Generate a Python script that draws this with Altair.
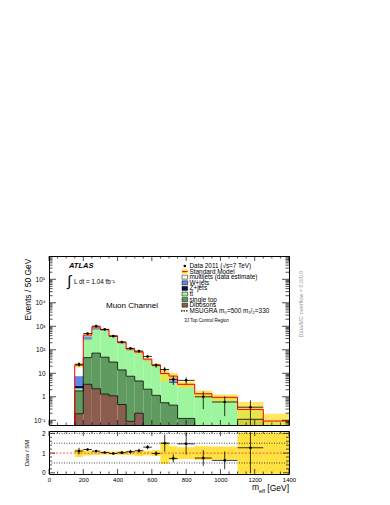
import altair as alt
import pandas as pd

# ---------------- data ----------------
edges = [150, 200, 250, 300, 350, 400, 450, 500, 550, 600, 650, 700, 750, 850, 950, 1100, 1250, 1400]
dibosons   = [0.19, 3.4, 2.2, 1.3, 1.1, 0.47, 0.09, 0.2, 0, 0, 0, 0, 0, 0, 0, 0, 0]
single_top = [1.6, 43, 70, 47, 29, 13.5, 7.4, 4.5, 2.1, 1.15, 0.56, 0.44, 0.12, 0.03, 0.02, 0.11, 0]
ttbar      = [0.5, 234, 668, 582, 320, 171, 88.5, 65.3, 33.9, 18.85, 8.24, 3.56, 2.98, 1.17, 0.83, 0.15, 0.09]
zjets      = [0.6, 15, 20, 10, 5, 3, 1.5, 1, 0.5, 0.3, 0.2, 0.3, 0.05, 0.02, 0.01, 0, 0]
wjets      = [4.7, 85, 110, 60, 28, 16, 8, 7, 3, 2, 0.7, 3.0, 0.2, 0.11, 0.08, 0.03, 0.003]
multijets  = [14.4, 40, 50, 20, 7, 5, 2.5, 2, 0.5, 0.3, 0.1, 0.3, 0.05, 0.02, 0.01, 0, 0]
mc_unc     = [0.2, 0.12, 0.1, 0.08, 0.08, 0.1, 0.1, 0.15, 0.12, 0.15, 0.55, 0.35, 0.3, 0.35, 0.33, 1.05, 1.05]

data_vals  = [24, 490, 1010, 740, 380, 213, 115, 88, 52, 22, 14.5, 5.5, 5.0, 1.0, 0.6, 0.36]
data_err   = [5, 22, 32, 27, 19, 14.6, 10.7, 9.4, 7.2, 4.7, 3.8, 2.3, 1.6, 0.7, 0.45, 0.35]
ratio_vals = [1.1, 1.18, 1.1, 1.03, 0.98, 1.02, 1.07, 1.12, 1.3, 0.98, 1.5, 0.73, 1.47, 0.75, 0.63, 1.27]
ratio_err  = [0.17, 0.06, 0.04, 0.04, 0.05, 0.07, 0.1, 0.1, 0.1, 0.12, 0.43, 0.2, 0.55, 0.4, 0.45, 1.3]

comp_names  = ["Dibosons", "single top", "ttbar", "Z+jets", "W+jets", "multijets"]
comp_values = [dibosons, single_top, ttbar, zjets, wjets, multijets]
comp_colors = ["#8b5d4f", "#5f9a5f", "#9df59d", "#0b0b5c", "#5c8ae6", "#ffffff"]

legend_labels = ["Data 2011 (\u221as=7 TeV)", "Standard Model", "multijets (data estimate)", "W+jets",
                 "Z+jets", "tt\u0304", "single top", "Dibosons", "MSUGRA m\u2080=500 m\u2081/\u2082=330"]
legend_swatch = [None, "SM", "#ffffff", "#5c8ae6", "#0b0b5c", "#9df59d", "#5f9a5f", "#8b5d4f", "DASH"]

x_major = [0, 200, 400, 600, 800, 1000, 1200, 1400]
decades = [0.1, 1, 10, 100, 1e3, 1e4, 1e5]
decade_labels = ["10\u207b\u00b9", "1", "10", "10\u00b2", "10\u00b3", "10\u2074", "10\u2075"]
ratio_ticks = [0, 1, 2]
ratio_refs = [0.5, 1.5, 2.0]

# ---------------- layout constants ----------------
FONT = "Liberation Sans, Arial, Helvetica, sans-serif"
W, HM, HR = 240, 169, 43
FLOOR = 1e-3
YDOM = [0.063, 9.8e5]
RDOM = [-0.06, 2.12]
BAND = "#ffdf2e"

xs = alt.Scale(domain=[0, 1400], nice=False, zero=False)
ys = alt.Scale(type="log", domain=YDOM, nice=False)
rs = alt.Scale(domain=RDOM, nice=False, zero=False)

label_expr = " : ".join(f"datum.value < {d * 3} ? '{l}'" for d, l in zip(decades, decade_labels)) + " : ''"

AX_MY = alt.Axis(values=decades, labelExpr=label_expr, ticks=False, domain=False, grid=False,
                 labelFontSize=6.5, labelPadding=4, labelOverlap=False, labelFlush=False,
                 title="Events / 50 GeV", titleFontSize=8.5, titleFontWeight="normal",
                 titleX=-16.5, titleY=2, titleAlign="right", titleAngle=270, titleBaseline="bottom")
AX_RX = alt.Axis(values=x_major, format="d", ticks=False, domain=False, grid=False,
                 labelFontSize=6, labelPadding=2, labelOverlap=False, labelFlush=False, title=None)
AX_RY = alt.Axis(values=ratio_ticks, format="d", ticks=False, domain=False, grid=False,
                 labelFontSize=6.5, labelPadding=4, labelOverlap=False, labelFlush=False,
                 title="Data / SM", titleFontSize=6, titleFontWeight="normal", titleX=-19.7,
                 titleY=HR / 2, titleAlign="center", titleAngle=270, titleBaseline="bottom")

nb = len(edges) - 1
lo, hi = edges[:-1], edges[1:]

# stacked components
rows = []
cum = [0.0] * nb
cum_tops = {}
for name, vals in zip(comp_names, comp_values):
    for i in range(nb):
        base = cum[i]
        top = base + vals[i]
        rows.append(dict(comp=name, lo=lo[i], hi=hi[i], y0=max(base, FLOOR), y1=max(top, FLOOR)))
        cum[i] = top
    cum_tops[name] = list(cum)
sm = list(cum)
stack_df = pd.DataFrame(rows)


def step_df(vals):
    xv = [edges[0]] + edges
    yv = [FLOOR] + [max(v, FLOOR) for v in vals] + [max(vals[-1], FLOOR)]
    return pd.DataFrame({"x": xv, "y": yv, "i": list(range(len(xv)))})


band_df = pd.DataFrame({"lo": lo, "hi": hi,
                        "b0": [max(s * (1 - u), FLOOR) for s, u in zip(sm, mc_unc)],
                        "b1": [s * (1 + u) for s, u in zip(sm, mc_unc)],
                        "r0": [1 - u for u in mc_unc], "r1": [1 + u for u in mc_unc]})

nd = len(data_vals)
data_df = pd.DataFrame({"lo": lo[:nd], "hi": hi[:nd],
                        "c": [(a + b) / 2 for a, b in zip(lo[:nd], hi[:nd])],
                        "d": data_vals,
                        "dlo": [max(d - e, FLOOR) for d, e in zip(data_vals, data_err)],
                        "dhi": [d + e for d, e in zip(data_vals, data_err)],
                        "r": ratio_vals,
                        "rlo": [r - e for r, e in zip(ratio_vals, ratio_err)],
                        "rhi": [r + e for r, e in zip(ratio_vals, ratio_err)]})

one = pd.DataFrame({"a": [0]})


def txt(x, y, s, size, align="left", baseline="middle", **kw):
    return alt.Chart(one).mark_text(text=s, fontSize=size, font=FONT, align=align,
                                    baseline=baseline, **kw).encode(x=alt.value(x), y=alt.value(y))


def tick_layers(yscale, yaxis, xaxis, h, ymaj, ymin, Lxm, Lxn, Lym, Lyn):
    x_minor = [v for v in range(0, 1401, 50) if v not in x_major]
    out = []
    for vals, L in [(x_major, Lxm), (x_minor, Lxn)]:
        base = alt.Chart(pd.DataFrame({"v": vals})).mark_rule(color="black", strokeWidth=0.7)
        out.append(base.encode(x=alt.X("v:Q", scale=xs, axis=xaxis), y=alt.value(h), y2=alt.value(h - L)))
        out.append(base.encode(x=alt.X("v:Q", scale=xs, axis=xaxis), y=alt.value(0), y2=alt.value(L)))
    for vals, L in [(ymaj, Lym), (ymin, Lyn)]:
        base = alt.Chart(pd.DataFrame({"v": vals})).mark_rule(color="black", strokeWidth=0.7, clip=True)
        out.append(base.encode(y=alt.Y("v:Q", scale=yscale, axis=yaxis), x=alt.value(0), x2=alt.value(L)))
        out.append(base.encode(y=alt.Y("v:Q", scale=yscale, axis=yaxis), x=alt.value(W - L), x2=alt.value(W)))
    return out


# ---------------- main panel ----------------
stack = alt.Chart(stack_df).mark_rect(clip=True, strokeWidth=0).encode(
    x=alt.X("lo:Q", scale=xs, axis=None), x2="hi:Q",
    y=alt.Y("y0:Q", scale=ys, axis=AX_MY), y2="y1:Q",
    color=alt.Color("comp:N", scale=alt.Scale(domain=comp_names, range=comp_colors), legend=None))

band_main = alt.Chart(band_df).mark_rect(clip=True, color=BAND, opacity=0.75).encode(
    x=alt.X("lo:Q", scale=xs, axis=None), x2="hi:Q", y=alt.Y("b0:Q", scale=ys, axis=AX_MY), y2="b1:Q")


def step_line(vals, color, width):
    return alt.Chart(step_df(vals)).mark_line(interpolate="step-after", clip=True, color=color,
                                              strokeWidth=width).encode(
        x=alt.X("x:Q", scale=xs, axis=None), y=alt.Y("y:Q", scale=ys, axis=AX_MY), order="i:Q")


st_line = step_line(cum_tops["single top"], "black", 0.8)
db_line = step_line(cum_tops["Dibosons"], "black", 0.8)
sm_line = step_line(sm, "#ff0000", 1.0)

d_v = alt.Chart(data_df).mark_rule(clip=True, color="black", strokeWidth=0.8).encode(
    x=alt.X("c:Q", scale=xs, axis=None), y=alt.Y("dlo:Q", scale=ys, axis=AX_MY), y2="dhi:Q")
d_h = alt.Chart(data_df).mark_rule(clip=True, color="black", strokeWidth=0.8).encode(
    x=alt.X("lo:Q", scale=xs, axis=None), x2="hi:Q", y=alt.Y("d:Q", scale=ys, axis=AX_MY))
d_p = alt.Chart(data_df).mark_point(clip=True, filled=True, shape="circle", color="black", size=7, opacity=1).encode(
    x=alt.X("c:Q", scale=xs, axis=None), y=alt.Y("d:Q", scale=ys, axis=AX_MY))

y_minor = [k * 10 ** e for e in range(-2, 6) for k in range(2, 10) if YDOM[0] <= k * 10 ** e <= YDOM[1]]
main_ticks = tick_layers(ys, AX_MY, None, HM, decades, y_minor, 5, 2.5, 7, 3.5)

# annotations
ann = [
    txt(20, 10, "ATLAS", 7.5, fontWeight="bold", fontStyle="italic"),
    txt(18, 25, "\u222b", 15),
    txt(25, 28.3, "L dt = 1.04 fb\u207b\u00b9", 6.3, baseline="alphabetic"),
    txt(57, 50, "Muon Channel", 8),
    txt(135.3, 65, "3J Top Control Region", 4.5),
    txt(252, 48, "Data/MC overflow = 0.0/0.0", 5.5, align="center", angle=270, color="#999999"),
]
leg = []
for i, (lab, sw) in enumerate(zip(legend_labels, legend_swatch)):
    yc = 10 + i * 5.6
    leg.append(txt(140.5, yc, lab, 6.4))
    if sw is None:
        leg.append(alt.Chart(one).mark_point(filled=True, shape="circle", color="black", size=7, opacity=1)
                   .encode(x=alt.value(135.8), y=alt.value(yc)))
    elif sw == "DASH":
        leg.append(alt.Chart(one).mark_rule(color="black", strokeWidth=1.3, strokeDash=[1.5, 1])
                   .encode(x=alt.value(132), x2=alt.value(138.7), y=alt.value(yc)))
    elif sw == "SM":
        leg.append(alt.Chart(one).mark_rect(color=BAND).encode(
            x=alt.value(133), x2=alt.value(138.7), y=alt.value(yc - 2), y2=alt.value(yc + 2)))
        leg.append(alt.Chart(one).mark_rule(color="#ff0000", strokeWidth=1).encode(
            x=alt.value(133), x2=alt.value(138.7), y=alt.value(yc)))
    else:
        leg.append(alt.Chart(one).mark_rect(color=sw, stroke="black", strokeWidth=0.5).encode(
            x=alt.value(133), x2=alt.value(138.7), y=alt.value(yc - 2), y2=alt.value(yc + 2)))

main = alt.layer(stack, band_main, st_line, db_line, sm_line, d_v, d_h, d_p, *main_ticks, *ann, *leg
                 ).properties(width=W, height=HM)

# ---------------- ratio panel ----------------
band_ratio = alt.Chart(band_df).mark_rect(clip=True, color=BAND, opacity=0.9).encode(
    x=alt.X("lo:Q", scale=xs, axis=AX_RX), x2="hi:Q",
    y=alt.Y("r0:Q", scale=rs, axis=AX_RY), y2="r1:Q")

refs = alt.Chart(pd.DataFrame({"v": ratio_refs})).mark_rule(color="black", strokeWidth=0.7,
                                                            strokeDash=[1, 1.5]).encode(
    y=alt.Y("v:Q", scale=rs, axis=AX_RY), x=alt.value(0), x2=alt.value(W))
one_line = alt.Chart(pd.DataFrame({"v": [1.0]})).mark_rule(color="#ff3020", strokeWidth=0.8,
                                                           strokeDash=[2, 1.5]).encode(
    y=alt.Y("v:Q", scale=rs, axis=AX_RY), x=alt.value(0), x2=alt.value(W))

r_v = alt.Chart(data_df).mark_rule(clip=True, color="black", strokeWidth=0.8).encode(
    x=alt.X("c:Q", scale=xs, axis=AX_RX), y=alt.Y("rlo:Q", scale=rs, axis=AX_RY), y2="rhi:Q")
r_h = alt.Chart(data_df).mark_rule(clip=True, color="black", strokeWidth=0.8).encode(
    x=alt.X("lo:Q", scale=xs, axis=AX_RX), x2="hi:Q", y=alt.Y("r:Q", scale=rs, axis=AX_RY))
r_p = alt.Chart(data_df).mark_point(clip=True, filled=True, shape="circle", color="black", size=7, opacity=1).encode(
    x=alt.X("c:Q", scale=xs, axis=AX_RX), y=alt.Y("r:Q", scale=rs, axis=AX_RY))

r_minor = [0.2, 0.4, 0.6, 0.8, 1.2, 1.4, 1.6, 1.8]
ratio_ticks_l = tick_layers(rs, AX_RY, AX_RX, HR, ratio_ticks, r_minor, 5, 2.5, 6, 3)

xtitle = [
    txt(210, 59.3, "m", 8.5, align="right", baseline="alphabetic"),
    txt(210, 61.7, "eff", 5.5, align="left", baseline="alphabetic"),
    txt(240, 59.5, "[GeV]", 8.5, align="right", baseline="alphabetic"),
]

ratio = alt.layer(band_ratio, refs, one_line, r_v, r_h, r_p, *ratio_ticks_l, *xtitle).properties(width=W, height=HR)

chart = alt.vconcat(main, ratio, spacing=6, bounds="flush").properties(
    padding={"left": 14, "top": 247, "right": 5, "bottom": 5}
).configure_view(stroke="black", strokeWidth=1).configure_axis(labelFont=FONT, titleFont=FONT,
                                                                 labelColor="black", titleColor="black")

chart.save("out.html", embed_options={"renderer": "svg", "actions": False})
